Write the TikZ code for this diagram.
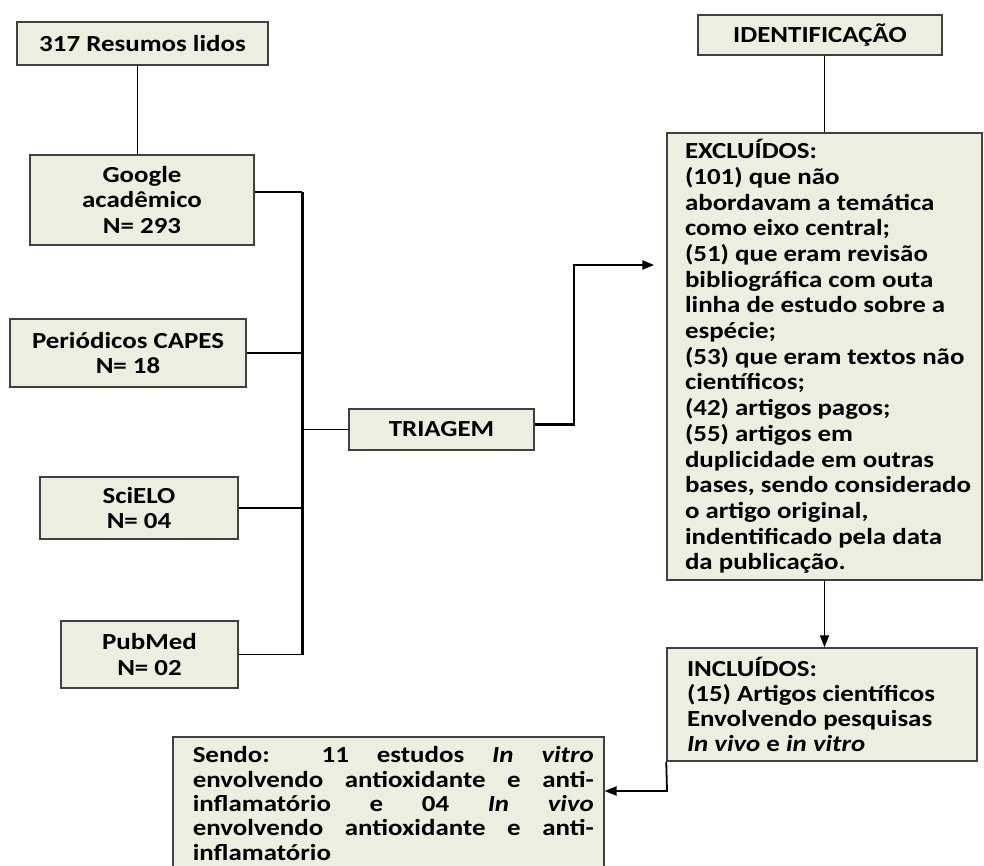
\documentclass[tikz,border=0pt]{standalone}
\usepackage{fontspec}
\setmainfont{Carlito}[FakeStretch=1.17]
\usetikzlibrary{arrows.meta}
\definecolor{boxfill}{HTML}{ECEEE0}
\definecolor{boxline}{HTML}{404040}

\begin{document}
\begin{tikzpicture}[x=1pt,y=-1pt,
		box/.style={draw=boxline, fill=boxfill, line width=1.5pt, inner sep=0pt, align=center,
			font=\bfseries\fontsize{23}{25.5}\selectfont},
		link/.style={line width=1.4pt},
		bus/.style={line width=3pt},
		tip/.style={-{Triangle[length=12pt,width=9pt]}}]
		\useasboundingbox (0,0) rectangle (984,866);
		\clip (0,0) rectangle (984,866);

		\node[box, minimum width=251pt, minimum height=43pt] (resumos) at (142.5,43.5) {317 Resumos lidos};
		\node[box, minimum width=224pt, minimum height=90pt] (google) at (142,200) {Google\\acadêmico\\N= 293};
		\node[box, minimum width=236pt, minimum height=68pt] (capes) at (128,353) {Periódicos CAPES\\N= 18};
		\node[box, minimum width=198pt, minimum height=62pt] (scielo) at (139,508) {SciELO\\N= 04};
		\node[box, minimum width=177pt, minimum height=67pt] (pubmed) at (149.5,654.5) {PubMed\\N= 02};
		\node[box, minimum width=185pt, minimum height=41pt] (triagem) at (441.5,429.5) {TRIAGEM};
		\node[box, minimum width=244pt, minimum height=40pt] (ident) at (820,35) {IDENTIFICAÇÃO};

		\node[box, minimum height=447pt] (excl) at (824.5,356.5)
			{\hspace*{18pt}\parbox{297pt}{\raggedright\baselineskip=25.7pt EXCLUÍDOS:\\(101) que não\\abordavam a temática\\como eixo central;\\(51) que eram revisão\\bibliográfica com outa\\linha de estudo sobre a\\espécie;\\(53) que eram textos não\\científicos;\\(42) artigos pagos;\\(55) artigos em\\duplicidade em outras\\bases, sendo considerado\\o artigo original,\\indentificado pela data\\da publicação.}};
		\node[box, minimum height=113pt] (incl) at (822,704.5)
			{\hspace*{20pt}\parbox{290pt}{\raggedright\baselineskip=25pt INCLUÍDOS:\\(15) Artigos científicos\\Envolvendo pesquisas\\\textit{In vivo} e \textit{in vitro}}};
		\node[box, inner ysep=10pt, anchor=north west] (sendo) at (172,736)
			{\hspace*{20pt}\parbox{401pt}{\baselineskip=24.3pt Sendo: 11 estudos \textit{In vitro}\linebreak envolvendo antioxidante e anti-\linebreak inflamatório e 04 \textit{In vivo}\linebreak envolvendo antioxidante e anti-\linebreak inflamatório}\hspace*{10pt}};

		\coordinate (bustop) at (302,192);
		\coordinate (busbot) at (bustop |- pubmed.east);
		\coordinate (elbow) at (574,265);
		\coordinate (turn) at (667,791);

		\draw[link] ([xshift=-5pt]resumos.south) -- ([xshift=-5pt]resumos.south |- google.north);
		\draw[link] (bustop -| google.east) -- (bustop);
		\draw[bus] (bustop) -- (busbot);
		\draw[link] (capes.east) -- (capes.east -| bustop);
		\draw[link] (scielo.east) -- (scielo.east -| bustop);
		\draw[link] (pubmed.east) -- (busbot);
		\draw[link] (triagem.west -| bustop) -- (triagem.west);
		\draw[line width=2.4pt, tip] ([yshift=5pt]triagem.east) -| (elbow) -- ([xshift=-12pt]excl.west |- elbow);
		\draw[link] (excl.north |- ident.south) -- (excl.north);
		\draw[line width=1.8pt, tip] (excl.south) -- (excl.south |- incl.north);
		\draw[line width=1.8pt, tip] (incl.south west) -- (turn) -- (turn -| sendo.east);
	\end{tikzpicture}
\end{document}
